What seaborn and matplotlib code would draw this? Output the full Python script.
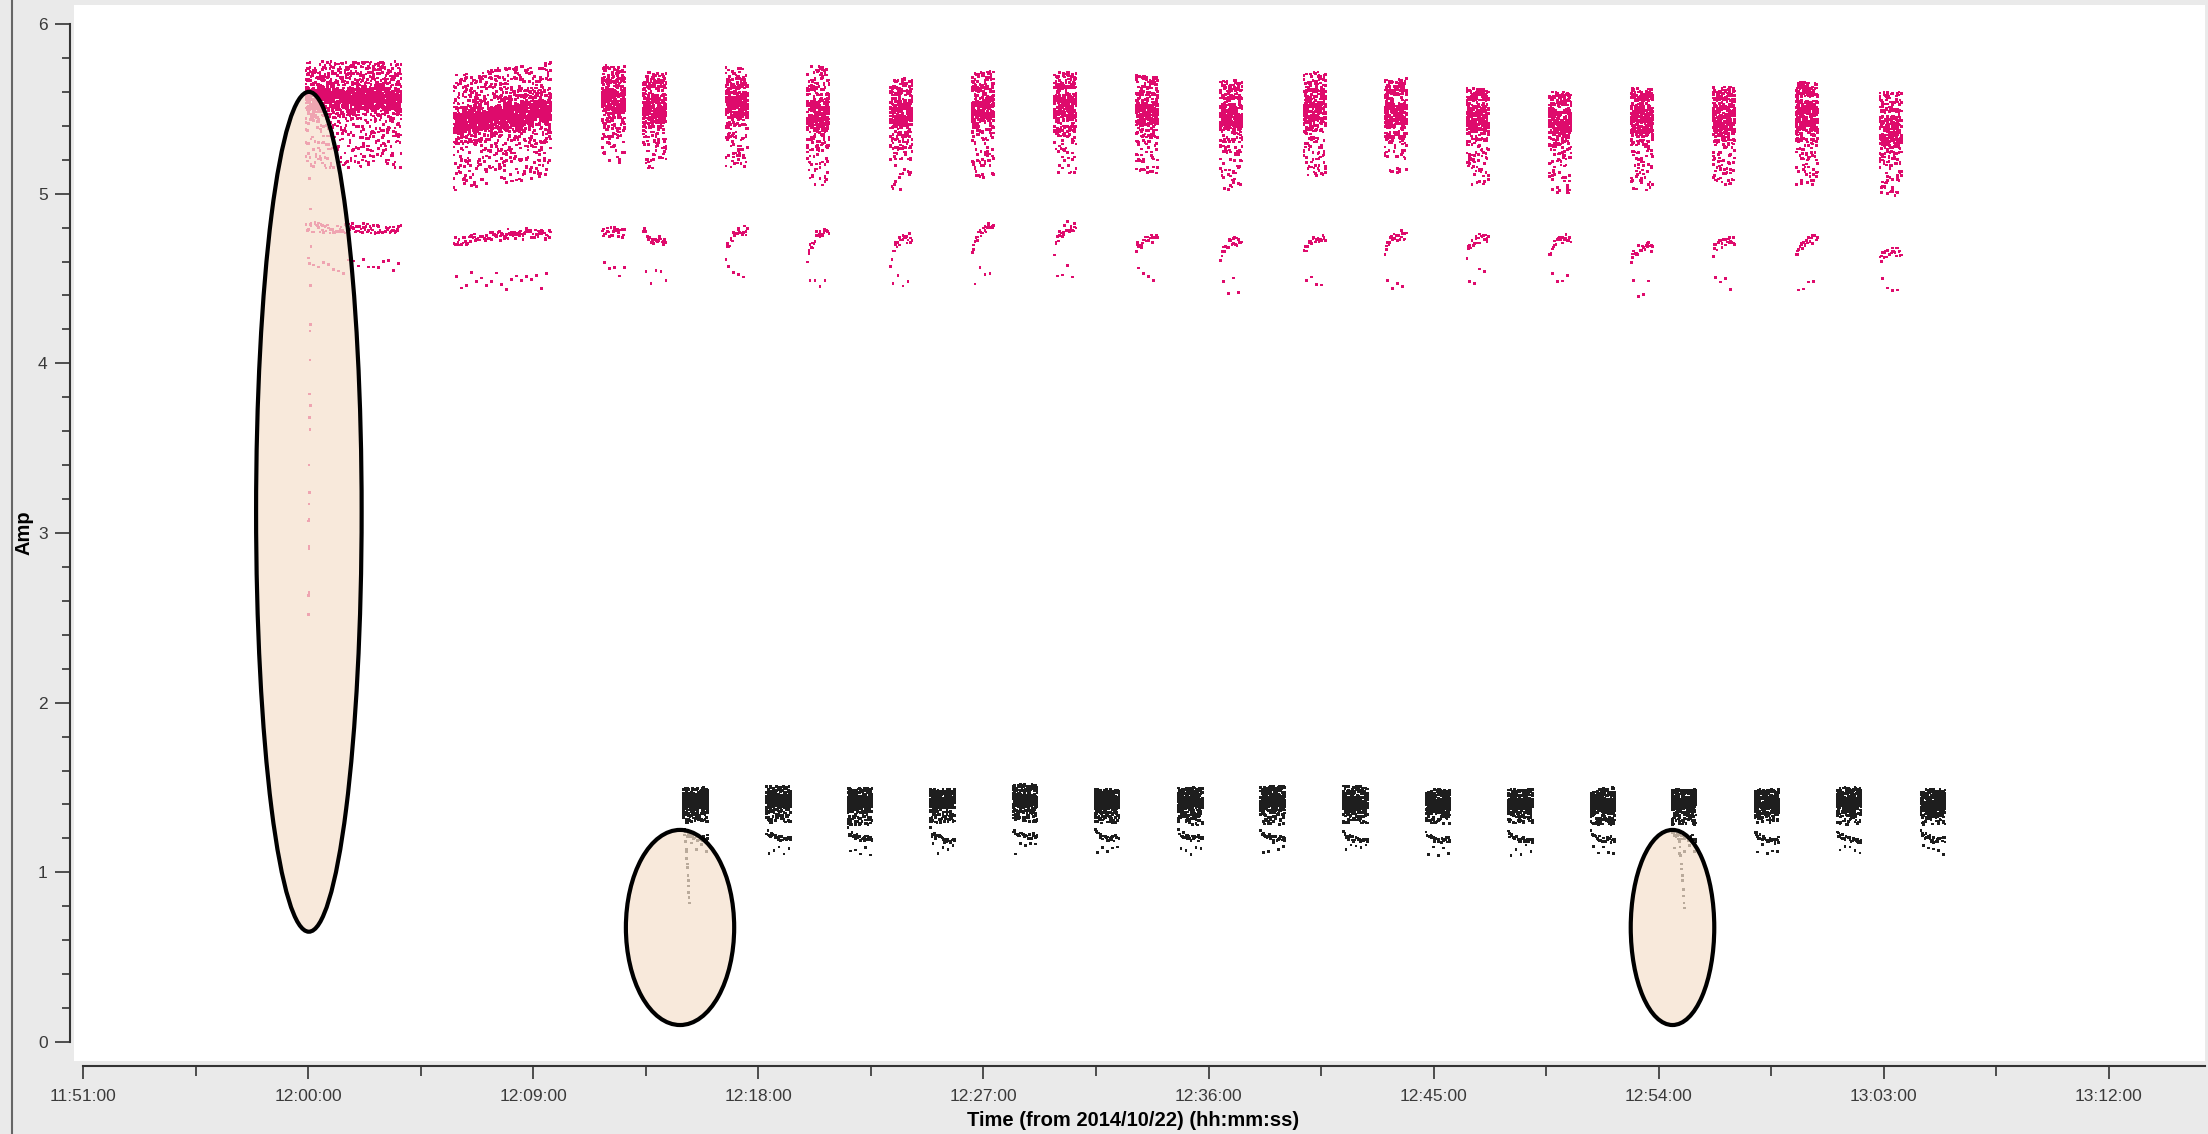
import numpy as np
import pandas as pd
import seaborn as sns
import matplotlib.pyplot as plt
from matplotlib.patches import Ellipse
from matplotlib.lines import Line2D
from matplotlib.ticker import FixedLocator, FuncFormatter

# ---- scan summaries (time in minutes after 12:00:00, 2014/10/22) ----
# calibrator scans (magenta)
cal_start = [-0.08, 5.84, 11.76, 13.41, 16.71, 19.97, 23.29, 26.56, 29.85, 33.11,
             36.49, 39.82, 43.06, 46.34, 49.64, 52.90, 56.18, 59.50, 62.85]
cal_dur = [3.84, 3.88, 0.96, 0.96, 0.92, 0.92, 0.92, 0.92, 0.92, 0.92,
           0.92, 0.92, 0.92, 0.92, 0.92, 0.92, 0.92, 0.92, 0.92]
cal_core_lo = [5.47, 5.33, 5.45, 5.40, 5.42, 5.35, 5.35, 5.38, 5.40, 5.38,
               5.33, 5.38, 5.36, 5.33, 5.30, 5.32, 5.32, 5.33, 5.25]
cal_core_hi = [5.64, 5.50, 5.65, 5.62, 5.62, 5.58, 5.58, 5.60, 5.62, 5.58,
               5.56, 5.60, 5.58, 5.55, 5.52, 5.55, 5.55, 5.57, 5.48]
cal_top = [5.78, 5.70, 5.76, 5.72, 5.75, 5.75, 5.68, 5.72, 5.72, 5.70,
           5.67, 5.72, 5.68, 5.62, 5.60, 5.62, 5.63, 5.66, 5.60]
cal_tail = [5.15, 5.02, 5.18, 5.15, 5.15, 5.05, 5.02, 5.08, 5.12, 5.12,
            5.02, 5.10, 5.12, 5.05, 5.00, 5.02, 5.05, 5.05, 4.98]
cal_drift = [0.0, 0.08, 0.0, 0.0, 0.0, 0.0, 0.0, 0.0, 0.0, 0.0,
             0.0, 0.0, 0.0, 0.0, 0.0, 0.0, 0.0, 0.0, 0.0]
cal_band2_start = [4.80, 4.70, 4.76, 4.80, 4.62, 4.60, 4.58, 4.64, 4.66, 4.66,
                   4.62, 4.64, 4.66, 4.64, 4.62, 4.60, 4.64, 4.62, 4.62]
cal_band2_end = [4.79, 4.76, 4.77, 4.72, 4.79, 4.77, 4.74, 4.79, 4.80, 4.74,
                 4.72, 4.74, 4.75, 4.74, 4.73, 4.69, 4.72, 4.73, 4.66]
cal_band3 = [4.57, 4.49, 4.55, 4.52, 4.53, 4.47, 4.47, 4.52, 4.54, 4.52,
             4.46, 4.51, 4.49, 4.52, 4.50, 4.44, 4.46, 4.47, 4.46]

# target scans (black)
tgt_start = [15.02, 18.33, 21.59, 24.89, 28.19, 31.47, 34.80, 38.09,
             41.40, 44.69, 47.99, 51.29, 54.54, 57.85, 61.14, 64.49]
tgt_dur = [0.98] * 16
tgt_core_lo = [1.36, 1.37, 1.36, 1.36, 1.37, 1.36, 1.36, 1.37,
               1.36, 1.36, 1.36, 1.35, 1.36, 1.36, 1.36, 1.35]
tgt_core_hi = [1.46, 1.47, 1.46, 1.46, 1.48, 1.46, 1.46, 1.47,
               1.46, 1.45, 1.45, 1.45, 1.46, 1.46, 1.46, 1.45]
tgt_top = [1.50, 1.51, 1.50, 1.49, 1.52, 1.49, 1.50, 1.51,
           1.51, 1.49, 1.49, 1.50, 1.49, 1.49, 1.50, 1.49]
tgt_tail = [1.29, 1.29, 1.28, 1.29, 1.29, 1.29, 1.28, 1.28,
            1.29, 1.28, 1.29, 1.28, 1.28, 1.29, 1.28, 1.28]
tgt_band2_start = [1.25, 1.24, 1.25, 1.25, 1.25, 1.24, 1.25, 1.25,
                   1.24, 1.24, 1.24, 1.25, 1.24, 1.24, 1.24, 1.24]
tgt_band2_end = [1.20, 1.20, 1.20, 1.19, 1.21, 1.20, 1.20, 1.20,
                 1.19, 1.19, 1.19, 1.19, 1.20, 1.19, 1.19, 1.19]
tgt_band3 = [1.14, 1.14, 1.13, 1.14, 1.14, 1.14, 1.13, 1.14,
             1.14, 1.13, 1.13, 1.13, 1.14, 1.14, 1.13, 1.13]

# samples at scan starts that fall off the main bands
cal_flag_t = [0.05, 0.10, 0.08, 0.12, 0.06, 0.10, 0.09, 0.07, 0.08, 0.06, 0.09,
              0.05, 0.07, 0.04, 0.06, 0.03, 0.02, 0.03, 0.04, 0.03, 0.02, 0.03, 0.02]
cal_flag_amp = [5.09, 4.91, 4.82, 4.69, 4.59, 4.46, 4.23, 4.19, 4.02, 3.82, 3.75,
                3.68, 3.61, 3.40, 3.24, 3.17, 3.07, 3.08, 2.92, 2.91, 2.63, 2.65, 2.52]
tgt_flag_t = [15.06, 15.10, 15.12, 15.14, 15.16, 15.18, 15.19, 15.20, 15.21, 15.22, 15.23, 15.24,
              54.78, 54.82, 54.85, 54.88, 54.90, 54.92, 54.94, 54.96, 54.98, 55.00, 55.01, 55.02]
tgt_flag_amp = [1.22, 1.18, 1.12, 1.08, 1.05, 1.03, 0.98, 0.95, 0.92, 0.88, 0.85, 0.82,
                1.22, 1.18, 1.15, 1.10, 1.05, 1.02, 0.98, 0.95, 0.90, 0.86, 0.82, 0.79]

# highlighted regions
ell_x = [0.03, 14.87, 54.55]
ell_y = [3.125, 0.675, 0.675]
ell_w = [4.22, 4.33, 3.34]
ell_h = [4.95, 1.15, 1.15]

x_major = [-9, 0, 9, 18, 27, 36, 45, 54, 63, 72]
y_major = [0, 1, 2, 3, 4, 5, 6]

MAGENTA = "#DE0B6C"
DARK = "#1E1E1E"
PEACH = "#F6E1CD"

INTEG = 3.0 / 60.0          # 3 s integrations


def mix(a, b, c):
    """Deterministic scrambling of (scan, integration, baseline) indices into [0, 1)."""
    with np.errstate(over="ignore"):
        x = (np.asarray(a, dtype=np.uint64) * np.uint64(0x9E3779B97F4A7C15)
             + np.asarray(b, dtype=np.uint64) * np.uint64(0xC2B2AE3D27D4EB4F)
             + np.asarray(c, dtype=np.uint64) * np.uint64(0x165667B19E3779F9))
        x ^= x >> np.uint64(30)
        x *= np.uint64(0xBF58476D1CE4E5B9)
        x ^= x >> np.uint64(27)
        x *= np.uint64(0x94D049BB133111EB)
        x ^= x >> np.uint64(31)
    return (x >> np.uint64(11)).astype(np.float64) / 2.0 ** 53


def expand(idx, t0, dur, lo, hi, top, tail, drift, b2s, b2e, b3,
           n_core, n_top, n_tail, wig):
    ncol = max(int(round(dur / INTEG)), 2)
    ts, amps = [], []
    for j in range(ncol):
        f = j / (ncol - 1)
        t = t0 + j * INTEG
        d = drift * f
        k = np.arange(n_core)
        u = 0.75 * mix(idx, j, k) + 0.25 * mix(idx, j, k + 500)
        core = lo + d + (hi - lo) * u
        k = np.arange(n_top)
        upper = hi + d + (top - hi) * mix(idx, j, k + 1000) ** 1.4
        pts = list(core) + list(upper)
        k = np.arange(n_tail if j % 2 == 0 else max(n_tail - 2, 1))
        pts += list(lo + d - (lo - tail) * mix(idx, j, k + 2000) ** 1.5)
        rise = min(1.0, f / 0.55) ** 0.5
        lvl = b2s + (b2e - b2s) * rise
        pts.append(lvl + wig * (mix(idx, j, 3000) - 0.5))
        if j % 3 == 1:
            pts.append(lvl + wig * 1.4 * (mix(idx, j, 3001) - 0.5))
        if j % 4 == 2:
            pts.append(b3 + 2.2 * wig * (mix(idx, j, 3002) - 0.5))
        ts += [t] * len(pts)
        amps += [float(p) for p in pts]
    return ts, amps


rows = []
for i in range(len(cal_start)):
    n_core = 15 if cal_dur[i] > 2 else 13
    t, a = expand(i, cal_start[i], cal_dur[i], cal_core_lo[i], cal_core_hi[i],
                  cal_top[i], cal_tail[i], cal_drift[i], cal_band2_start[i],
                  cal_band2_end[i], cal_band3[i], n_core, 4, 5, 0.05)
    rows.append(pd.DataFrame({"minutes": t, "amp": a, "source": "cal"}))
for i in range(len(tgt_start)):
    t, a = expand(i + 40, tgt_start[i], tgt_dur[i], tgt_core_lo[i], tgt_core_hi[i],
                  tgt_top[i], tgt_tail[i], 0.0, tgt_band2_start[i],
                  tgt_band2_end[i], tgt_band3[i], 13, 3, 4, 0.03)
    rows.append(pd.DataFrame({"minutes": t, "amp": a, "source": "tgt"}))
rows.append(pd.DataFrame({"minutes": cal_flag_t, "amp": cal_flag_amp, "source": "cal"}))
rows.append(pd.DataFrame({"minutes": tgt_flag_t, "amp": tgt_flag_amp, "source": "tgt"}))
df = pd.concat(rows, ignore_index=True)

sns.set_style("white")
plt.rcParams["font.family"] = ["Liberation Sans", "DejaVu Sans"]

fig = plt.figure(figsize=(22.08, 11.34), dpi=100, facecolor="#EAEAEA")
ax = fig.add_axes([74 / 2208, 73 / 1134, 2131 / 2208, 1056 / 1134])
ax.set_facecolor("white")

sns.scatterplot(data=df, x="minutes", y="amp", hue="source",
                palette={"cal": MAGENTA, "tgt": DARK}, marker="s", s=3.6,
                linewidth=0, legend=False, ax=ax, zorder=2)

for cx, cy, w, h in zip(ell_x, ell_y, ell_w, ell_h):
    ax.add_patch(Ellipse((cx, cy), w, h, facecolor=PEACH, edgecolor="none",
                         alpha=0.72, zorder=3))
    ax.add_patch(Ellipse((cx, cy), w, h, fill=False, edgecolor="black",
                         linewidth=3.0, zorder=4))

ax.set_xlim(-9.36, 75.84)
ax.set_ylim(-0.112, 6.112)

for side in ("top", "right"):
    ax.spines[side].set_visible(False)
ax.spines["left"].set_position(("outward", 3))
ax.spines["bottom"].set_position(("outward", 3.6))
ax.spines["left"].set_bounds(0, 6)
ax.spines["bottom"].set_bounds(-9, 75.84)
for side in ("left", "bottom"):
    ax.spines[side].set_linewidth(1.5)
    ax.spines[side].set_color("#333333")


def hms(v, pos=None):
    total = 12 * 60 + v
    h = int(total // 60)
    m = int(round(total - h * 60))
    return f"{h:02d}:{m:02d}:00"


ax.xaxis.set_major_locator(FixedLocator(x_major))
ax.xaxis.set_minor_locator(FixedLocator([v + 4.5 for v in x_major]))
ax.xaxis.set_major_formatter(FuncFormatter(hms))
ax.yaxis.set_major_locator(FixedLocator(y_major))
ax.yaxis.set_minor_locator(FixedLocator([y + s for y in range(6) for s in (0.2, 0.4, 0.6, 0.8)]))

ax.tick_params(axis="both", which="both", direction="out", colors="#333333",
               width=1.2, labelsize=12.5, labelcolor="#3A3A3A",
               bottom=True, left=True)
ax.tick_params(axis="x", which="major", length=9.5, pad=7)
ax.tick_params(axis="x", which="minor", length=7)
ax.tick_params(axis="y", which="major", length=11, pad=5)
ax.tick_params(axis="y", which="minor", length=5.5)

ax.set_xlabel("Time (from 2014/10/22) (hh:mm:ss)", fontsize=14.5,
              fontweight="bold", color="black")
ax.xaxis.set_label_coords(0.497, -0.047)
ax.set_ylabel("Amp", fontsize=14.5, fontweight="bold", color="black")
ax.yaxis.set_label_coords(-0.019, 0.5)

fig.add_artist(Line2D([12 / 2208, 12 / 2208], [0, 1], transform=fig.transFigure,
                      color="#666666", linewidth=1.5))

fig.savefig("out.png", dpi=100, facecolor=fig.get_facecolor())
